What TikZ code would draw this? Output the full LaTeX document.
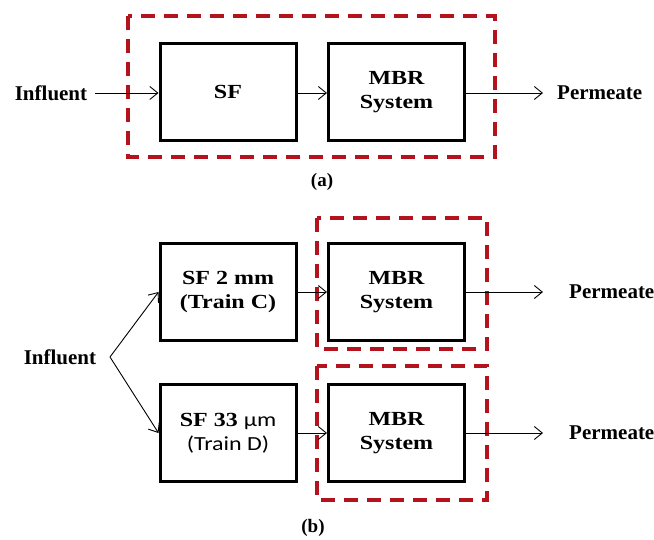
\documentclass[tikz,border=0pt]{standalone}
\usepackage{fontspec}
\setmainfont{Liberation Serif}
\newfontfamily\boxserif[FakeStretch=1.2]{Liberation Serif}
\newfontfamily\boxsans[FakeStretch=1.2]{Carlito}
\usetikzlibrary{arrows.meta}
\definecolor{dred}{RGB}{180,18,28}
\begin{document}
\begin{tikzpicture}[x=1pt,y=-1pt,
  lbl/.style={font=\fontsize{21}{24}\selectfont\bfseries, inner sep=0pt},
  captxt/.style={font=\fontsize{19}{22}\selectfont\bfseries, inner sep=0pt},
  blk/.style={draw, line width=3pt, minimum width=136pt, minimum height=97pt, align=center, inner sep=0pt, font=\fontsize{20}{24}\selectfont\boxserif\bfseries},
  flow/.style={line width=0.9pt, -{Straight Barb[length=8pt,width=13pt,line width=0.9pt]}},
  redbox/.style={draw=dred, line width=4pt, dash pattern=on 14pt off 9pt}
]
\useasboundingbox (0,0) rectangle (654,540);
% (a)
\draw[redbox] (128,16) rectangle (495,157);
\node[blk] (sfa) at (228,92) {SF};
\node[blk] (mbra) at (396.5,92) {MBR\\System};
\node[lbl] (infa) at (51,93) {Influent};
\node[lbl, anchor=west] (perma) at (557,93) {Permeate};
\coordinate (pa) at (543,93);
\draw[flow] (infa.east) ++(8,0) coordinate (ia) -- (ia -| sfa.west);
\draw[flow] (sfa.east |- infa) -- (mbra.west |- infa);
\draw[flow] (mbra.east |- infa) -- (pa);
\node[captxt] (capa) at (322,182) {(a)};
% (b)
\draw[redbox] (317,218) rectangle (487,349);
\draw[redbox] (317,366) rectangle (487,500);
\node[blk] (sfc) at (228,292) {SF 2 mm\\(Train C)};
\node[blk] (sfd) at (228,433) {SF 33 {\boxsans\mdseries µm}\\{\boxsans\mdseries (Train D)}};
\node[blk] (mbrc) at (396.5,292) {MBR\\System};
\node[blk] (mbrd) at (396.5,433) {MBR\\System};
\node[lbl] (infb) at (60,357) {Influent};
\coordinate (fork) at (110,357);
\draw[flow] (fork) -- (sfc.west);
\draw[flow] (fork) -- (sfd.west);
\draw[flow] (sfc) -- (mbrc);
\draw[flow] (sfd) -- (mbrd);
\coordinate (pc) at (543,292);
\coordinate (pd) at (543,433);
\draw[flow] (mbrc) -- (pc);
\draw[flow] (mbrd) -- (pd);
\node[lbl, anchor=west] (permc) at (569,292) {Permeate};
\node[lbl, anchor=west] (permd) at (569,433) {Permeate};
\node[captxt] (capb) at (313,528) {(b)};
\end{tikzpicture}
\end{document}
